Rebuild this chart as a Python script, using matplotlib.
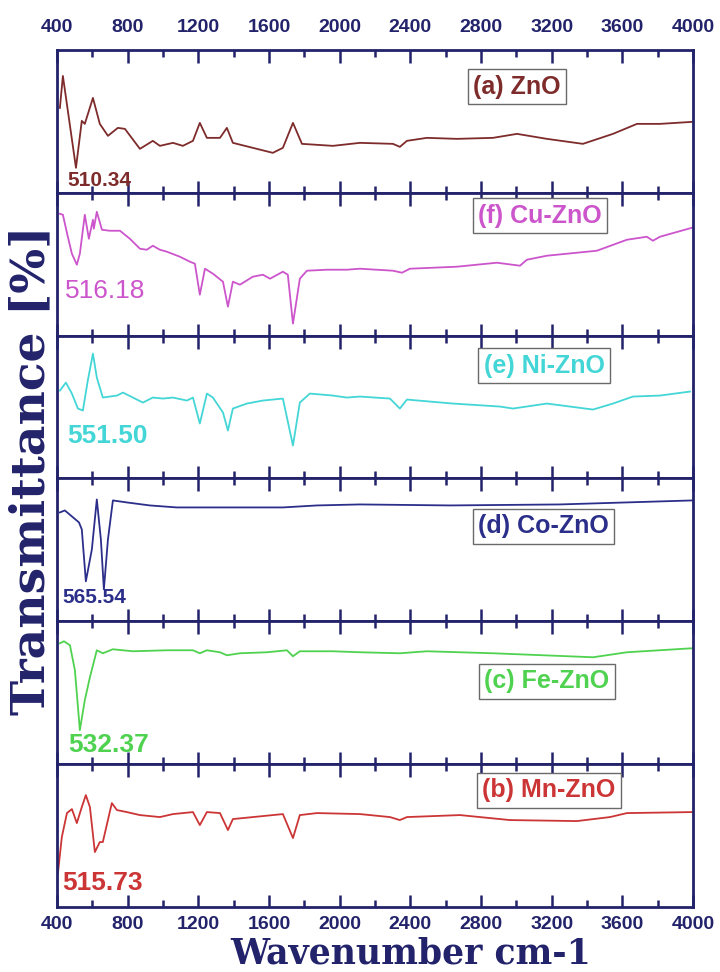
import matplotlib
matplotlib.use("Agg")
import matplotlib.pyplot as plt
from matplotlib.ticker import MultipleLocator

# wavenumber (cm-1) / transmittance (arb.)
wn_zno = [417, 434, 508, 541, 558, 604, 643, 689, 745, 785, 870, 943, 983, 1057, 1113, 1170, 1209, 1249,
          1323, 1362, 1396, 1509, 1622, 1679, 1736, 1787, 1962, 2115, 2302, 2341, 2381, 2494, 2664, 2868,
          3004, 3173, 3377, 3547, 3683, 3813, 3994]
t_zno = [85, 117, 25, 72, 69, 95, 69, 57, 65, 64, 44, 52, 47, 50, 47, 52, 70, 55,
         55, 65, 50, 45, 40, 45, 70, 49, 47, 50, 49, 46, 52, 55, 54, 55,
         59, 54, 49, 59, 69, 69, 71]

wn_cu = [417, 434, 462, 485, 513, 530, 558, 581, 604, 609, 626, 655, 700, 757, 813, 870, 909, 943, 983,
         1023, 1096, 1153, 1181, 1209, 1238, 1283, 1340, 1368, 1396, 1436, 1509, 1566, 1606, 1679, 1707,
         1736, 1775, 1815, 1928, 2041, 2115, 2302, 2353, 2398, 2664, 2890, 3021, 3060, 3173, 3456, 3626,
         3739, 3773, 3813, 3994]
t_cu = [122, 121, 99, 82, 71, 82, 121, 97, 116, 107, 124, 106, 105, 105, 97, 87, 86, 90, 86,
        84, 79, 74, 72, 41, 67, 62, 54, 29, 54, 51, 59, 61, 57, 64, 61,
        12, 57, 65, 66, 66, 67, 65, 63, 67, 69, 73, 70, 76, 80, 85, 96,
        99, 95, 99, 108]

wn_ni = [417, 451, 485, 519, 547, 575, 604, 626, 660, 740, 774, 830, 887, 943, 1000, 1057, 1136, 1170,
         1209, 1249, 1283, 1340, 1368, 1396, 1475, 1566, 1679, 1736, 1775, 1832, 1962, 2041, 2115, 2285,
         2341, 2381, 2641, 2907, 2981, 3173, 3434, 3547, 3660, 3813, 3983]
t_ni = [88, 96, 85, 70, 68, 98, 125, 101, 81, 83, 86, 81, 76, 81, 80, 81, 78, 81,
        55, 85, 81, 66, 48, 70, 75, 78, 80, 33, 76, 85, 83, 81, 82, 80,
        70, 79, 75, 72, 70, 75, 69, 75, 82, 83, 87]

wn_co = [417, 445, 485, 525, 541, 564, 598, 626, 649, 666, 689, 717, 796, 926, 1079, 1306, 1492, 1679,
         1872, 2115, 2624, 3247, 3994]
t_co = [109, 111, 105, 99, 92, 40, 72, 122, 82, 32, 82, 121, 119, 116, 114, 114, 114, 114,
        116, 117, 116, 117, 121]

wn_fe = [417, 440, 474, 502, 530, 558, 587, 626, 660, 717, 830, 1023, 1170, 1209, 1249, 1323, 1362, 1436,
         1589, 1702, 1736, 1775, 1962, 2115, 2341, 2494, 2868, 3151, 3434, 3626, 3994]
t_fe = [121, 123, 119, 94, 34, 64, 87, 114, 111, 115, 113, 114, 114, 111, 114, 112, 109, 111,
        112, 114, 108, 113, 113, 112, 111, 113, 111, 109, 107, 112, 116]

wn_mn = [406, 428, 457, 485, 513, 541, 564, 587, 615, 643, 660, 711, 740, 796, 870, 983, 1057, 1170,
         1209, 1249, 1323, 1368, 1396, 1509, 1679, 1736, 1775, 1872, 2115, 2285, 2341, 2381, 2681, 2964,
         3343, 3530, 3626, 3994]
t_mn = [34, 70, 94, 98, 84, 100, 112, 100, 55, 65, 65, 104, 97, 95, 92, 90, 93, 95,
        82, 95, 94, 77, 88, 90, 93, 69, 92, 94, 93, 90, 87, 90, 92, 87,
        86, 90, 94, 95]

names = ["(a) ZnO", "(f) Cu-ZnO", "(e) Ni-ZnO", "(d) Co-ZnO", "(c) Fe-ZnO", "(b) Mn-ZnO"]
peaks = ["510.34", "516.18", "551.50", "565.54", "532.37", "515.73"]
colors = ["#7e2b2b", "#cc55cc", "#44d6d6", "#2b2f8a", "#4fd24f", "#cc3535"]
series = [(wn_zno, t_zno), (wn_cu, t_cu), (wn_ni, t_ni), (wn_co, t_co), (wn_fe, t_fe), (wn_mn, t_mn)]

# label-box centres and peak-label anchors (data coords)
box_xy = [(3004, 106), (3134, 120), (3157, 113), (3154, 95), (3173, 83), (3185, 117)]
peak_xy = [(462, 12), (445, 45), (457, 43), (434, 24), (462, 19), (428, 24)]
peak_fs = [15, 19, 19, 15, 19, 19]
peak_w = ["bold", "normal", "bold", "bold", "bold", "bold"]

navy = "#23236b"

fig, axes = plt.subplots(6, 1, figsize=(7.2, 9.72), dpi=100, sharex=True)
fig.subplots_adjust(left=0.079, right=0.9625, top=0.9486, bottom=0.0669, hspace=0)

for i, ax in enumerate(axes):
    x, y = series[i]
    ax.plot(x, y, color=colors[i], lw=1.3, solid_joinstyle="round")
    ax.set_xlim(400, 4000)
    ax.set_ylim(0, 143)
    ax.set_yticks([])
    for s in ax.spines.values():
        s.set_color(navy)
        s.set_linewidth(2)
    ax.xaxis.set_major_locator(MultipleLocator(400))
    ax.xaxis.set_minor_locator(MultipleLocator(200))
    ax.tick_params(axis="x", which="both", direction="in", top=True, bottom=True,
                   color=navy, width=1.8, labelbottom=False, labeltop=False)
    ax.tick_params(axis="x", which="major", length=9)
    ax.tick_params(axis="x", which="minor", length=5)

    ax.text(box_xy[i][0], box_xy[i][1], names[i], color=colors[i], fontsize=18,
            fontweight="bold", family="Liberation Sans", ha="center", va="center",
            bbox=dict(boxstyle="square,pad=0.22", fc="white", ec="#6a6a6a", lw=1))
    ax.text(peak_xy[i][0], peak_xy[i][1], peaks[i], color=colors[i], fontsize=peak_fs[i],
            fontweight=peak_w[i], family="Liberation Sans", ha="left", va="center")

for ax, where in [(axes[0], "top"), (axes[-1], "bottom")]:
    if where == "top":
        ax.tick_params(axis="x", which="major", labeltop=True, pad=10)
    else:
        ax.tick_params(axis="x", which="major", labelbottom=True, pad=6.5)
    for lab in ax.get_xticklabels(which="major"):
        lab.set_fontweight("bold")
        lab.set_fontsize(14)
        lab.set_color(navy)
        lab.set_family("Liberation Sans")

fig.text(0.043, 0.516, "Transmittance [%]", rotation=90, ha="center", va="center",
         fontsize=34, fontweight="bold", family="DejaVu Serif", color=navy)
fig.text(0.571, 0.0087, "Wavenumber cm-1", ha="center", va="baseline",
         fontsize=25, fontweight="bold", family="DejaVu Serif", color=navy)

fig.savefig("out.png", dpi=100)
